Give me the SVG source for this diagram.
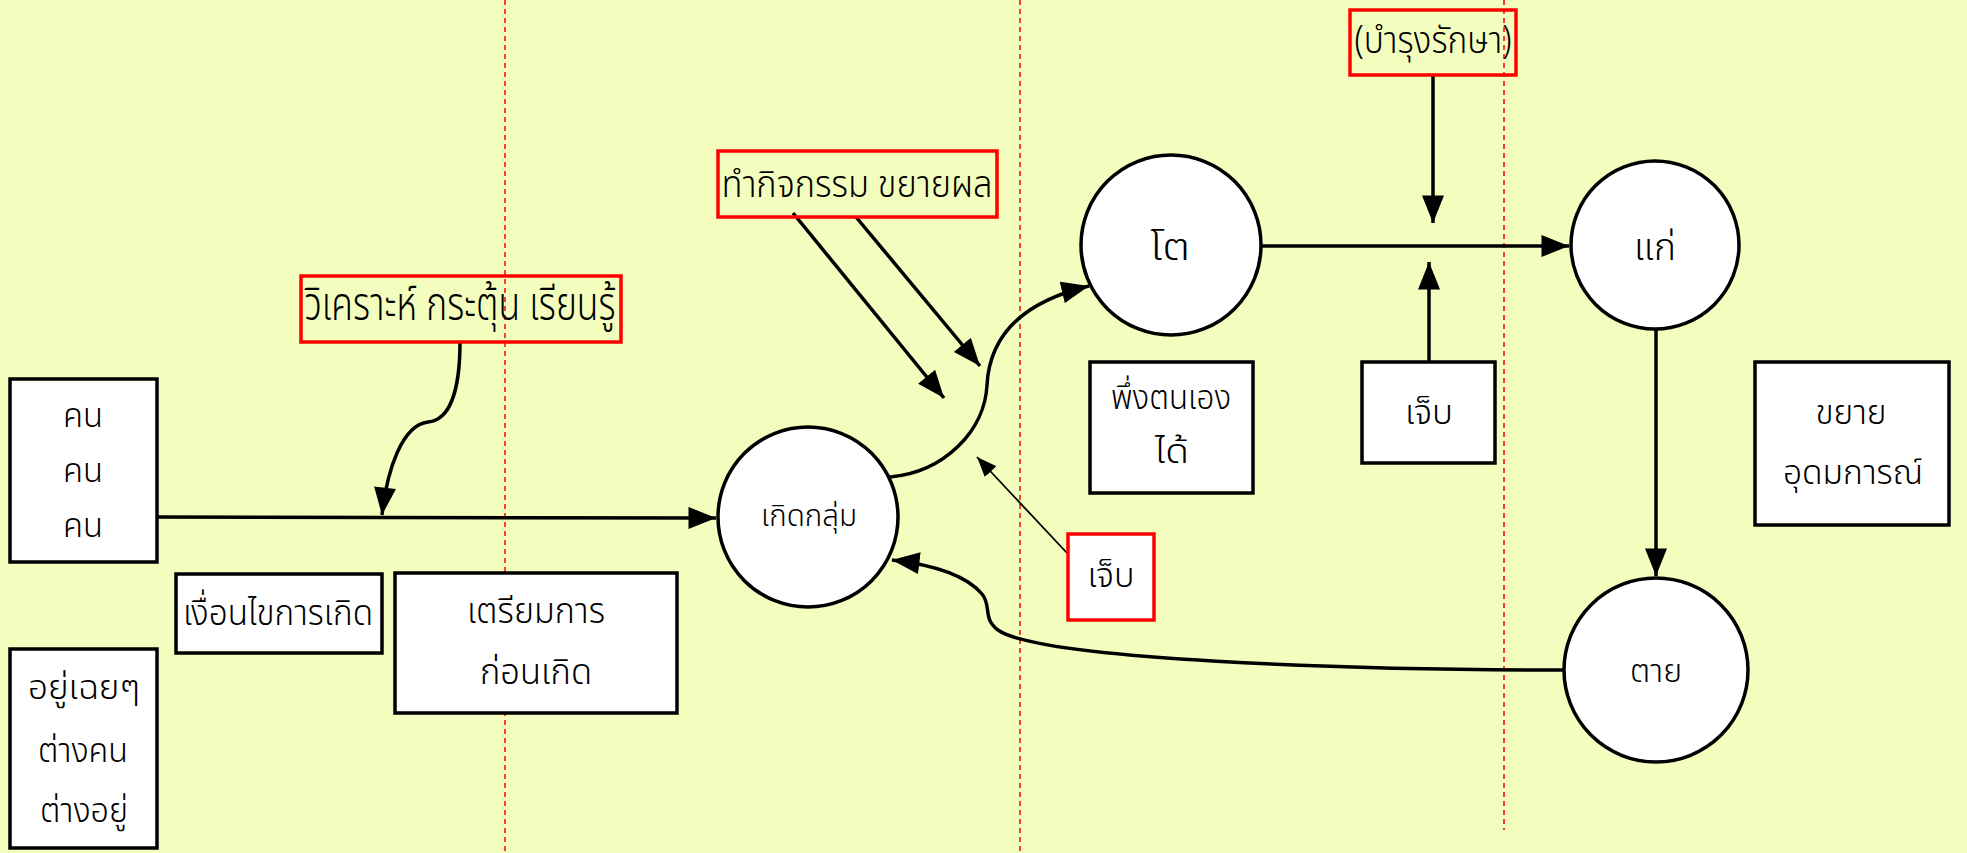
<svg xmlns="http://www.w3.org/2000/svg" width="1967" height="853" viewBox="0 0 1967 853">
<defs>
<style>
.bg{fill:#f3fdbd}
.guide{stroke:#ff0000;stroke-width:1.5;stroke-dasharray:5,4;fill:none}
.box{fill:#ffffff;stroke:#000;stroke-width:3.5}
.rbox{fill:none;stroke:#ff0000;stroke-width:3.5}
.rboxw{fill:#ffffff;stroke:#ff0000;stroke-width:3.5}
.node{fill:#ffffff;stroke:#000;stroke-width:3.5}
.edge{fill:none;stroke:#000;stroke-width:3.5}
.thin{fill:none;stroke:#000;stroke-width:1.8}
text{font-family:"Noto Sans Thai","Noto Sans","DejaVu Sans",sans-serif;font-weight:300;fill:#000;text-anchor:middle}
</style>
<marker id="a" viewBox="0 0 10 8" refX="10" refY="4" markerWidth="28" markerHeight="22" markerUnits="userSpaceOnUse" orient="auto">
<path d="M0,0 L10,4 L0,8 Z" fill="#000"/>
</marker>
<marker id="as" viewBox="0 0 10 8" refX="10" refY="4" markerWidth="20" markerHeight="16" markerUnits="userSpaceOnUse" orient="auto">
<path d="M0,0 L10,4 L0,8 Z" fill="#000"/>
</marker>
</defs>
<rect class="bg" x="0" y="0" width="1967" height="853"/>
<g id="guides">
<line class="guide" x1="505" y1="0" x2="505" y2="853"/>
<line class="guide" x1="1020" y1="0" x2="1020" y2="853"/>
<line class="guide" x1="1504" y1="0" x2="1504" y2="830"/>
</g>
<g id="connectors">
<line class="edge" x1="157" y1="517" x2="716" y2="518" marker-end="url(#a)"/>
<path class="edge" d="M460,342 C460,390 450,420 428,422 C402,425 387,470 382,515" marker-end="url(#a)"/>
<line class="edge" x1="793" y1="213" x2="944" y2="398" marker-end="url(#a)"/>
<line class="edge" x1="856" y1="217" x2="980" y2="366" marker-end="url(#a)"/>
<path class="edge" d="M890,477 C945,472 985,430 987,385 C990,330 1030,300 1089,286" marker-end="url(#a)"/>
<line class="thin" x1="1067" y1="553" x2="977" y2="457" marker-end="url(#as)"/>
<path class="edge" d="M1564,670 C1350,670 1040,660 998,630 C982,618 992,606 982,594 C966,575 935,565 892,560" marker-end="url(#a)"/>
<line class="edge" x1="1262" y1="246" x2="1569" y2="246" marker-end="url(#a)"/>
<line class="edge" x1="1433" y1="76" x2="1433" y2="223" marker-end="url(#a)"/>
<line class="edge" x1="1429" y1="362" x2="1429" y2="262" marker-end="url(#a)"/>
<line class="edge" x1="1656" y1="330" x2="1656" y2="576" marker-end="url(#a)"/>
</g>
<g id="n-khon">
<rect class="box" x="10" y="379" width="147" height="183"/>
<text font-size="33" x="83" y="427" textLength="40" lengthAdjust="spacingAndGlyphs">คน</text>
<text font-size="33" x="83" y="482" textLength="40" lengthAdjust="spacingAndGlyphs">คน</text>
<text font-size="33" x="83" y="537" textLength="40" lengthAdjust="spacingAndGlyphs">คน</text>
</g>
<g id="n-yu">
<rect class="box" x="10" y="649" width="147" height="199"/>
<text font-size="33" x="84" y="699" textLength="112" lengthAdjust="spacingAndGlyphs">อยู่เฉยๆ</text>
<text font-size="33" x="83" y="762" textLength="90" lengthAdjust="spacingAndGlyphs">ต่างคน</text>
<text font-size="33" x="84" y="822" textLength="88" lengthAdjust="spacingAndGlyphs">ต่างอยู่</text>
</g>
<g id="n-wikhro">
<rect class="rbox" x="301" y="276" width="320" height="66"/>
<text font-size="46" x="460" y="320" textLength="311" lengthAdjust="spacingAndGlyphs">วิเคราะห์ กระตุ้น เรียนรู้</text>
</g>
<g id="n-nguean">
<rect class="box" x="176" y="574" width="206" height="79"/>
<text font-size="36" x="278" y="625" textLength="190" lengthAdjust="spacingAndGlyphs">เงื่อนไขการเกิด</text>
</g>
<g id="n-triam">
<rect class="box" x="395" y="573" width="282" height="140"/>
<text font-size="35" x="536" y="623" textLength="138" lengthAdjust="spacingAndGlyphs">เตรียมการ</text>
<text font-size="35" x="536" y="684" textLength="112" lengthAdjust="spacingAndGlyphs">ก่อนเกิด</text>
</g>
<g id="n-koet">
<ellipse class="node" cx="808" cy="517" rx="90" ry="90"/>
<text font-size="31" x="809" y="526" textLength="96" lengthAdjust="spacingAndGlyphs">เกิดกลุ่ม</text>
</g>
<g id="n-tham">
<rect class="rbox" x="718" y="151" width="279" height="66"/>
<text font-size="38" x="857" y="197" textLength="271" lengthAdjust="spacingAndGlyphs">ทำกิจกรรม ขยายผล</text>
</g>
<g id="n-to">
<ellipse class="node" cx="1171" cy="245" rx="90" ry="90"/>
<text font-size="38" x="1170" y="260" textLength="40" lengthAdjust="spacingAndGlyphs">โต</text>
</g>
<g id="n-phueng">
<rect class="box" x="1090" y="362" width="163" height="131"/>
<text font-size="34" x="1171" y="409" textLength="120" lengthAdjust="spacingAndGlyphs">พึ่งตนเอง</text>
<text font-size="34" x="1172" y="463" textLength="34" lengthAdjust="spacingAndGlyphs">ได้</text>
</g>
<g id="n-chep1">
<rect class="rboxw" x="1068" y="534" width="86" height="86"/>
<text font-size="34" x="1111" y="587" textLength="47" lengthAdjust="spacingAndGlyphs">เจ็บ</text>
</g>
<g id="n-bamrung">
<rect class="rbox" x="1350" y="10" width="166" height="65"/>
<text font-size="38" x="1433" y="53" textLength="157" lengthAdjust="spacingAndGlyphs">(บำรุงรักษา)</text>
</g>
<g id="n-chep2">
<rect class="box" x="1362" y="362" width="133" height="101"/>
<text font-size="34" x="1429" y="424" textLength="48" lengthAdjust="spacingAndGlyphs">เจ็บ</text>
</g>
<g id="n-kae">
<ellipse class="node" cx="1655" cy="245" rx="84" ry="84"/>
<text font-size="38" x="1655" y="260" textLength="42" lengthAdjust="spacingAndGlyphs">แก่</text>
</g>
<g id="n-khayai">
<rect class="box" x="1755" y="362" width="194" height="163"/>
<text font-size="34" x="1851" y="424" textLength="71" lengthAdjust="spacingAndGlyphs">ขยาย</text>
<text font-size="34" x="1853" y="484" textLength="140" lengthAdjust="spacingAndGlyphs">อุดมการณ์</text>
</g>
<g id="n-tai">
<ellipse class="node" cx="1656" cy="670" rx="92" ry="92"/>
<text font-size="32" x="1656" y="682" textLength="52" lengthAdjust="spacingAndGlyphs">ตาย</text>
</g>
</svg>
